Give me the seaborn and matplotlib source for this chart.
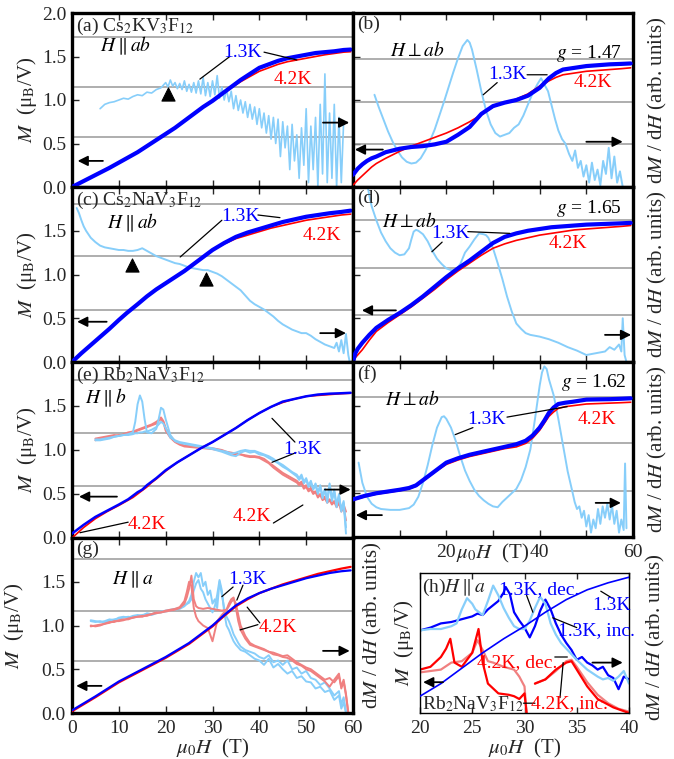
import matplotlib
matplotlib.use('Agg')
import matplotlib.pyplot as plt
import seaborn as sns

sns.set_style('ticks')
plt.rcParams['font.family'] = ['Liberation Serif', 'DejaVu Serif']
plt.rcParams['mathtext.fontset'] = 'stix'

BLUE, RED, LBLUE, SALMON = '#0000ff', '#ff0000', '#87cefa', '#f08080'
FS = 14

# ---------------- data ----------------
# (a) Cs2KV3F12, H || ab
H_a = [0, 2, 4, 6, 8, 10, 12, 14, 16, 18, 20, 22, 24, 26, 28, 30, 32, 34, 36, 38, 40, 42, 44, 46, 48, 50, 52, 54, 56, 58, 59.5]
M_a_13 = [0, 0.055, 0.11, 0.165, 0.22, 0.28, 0.34, 0.40, 0.47, 0.54, 0.61, 0.68, 0.76, 0.84, 0.92, 0.99, 1.07, 1.15, 1.23, 1.30, 1.37, 1.41, 1.45, 1.48, 1.50, 1.52, 1.54, 1.55, 1.56, 1.575, 1.58]
M_a_42 = [0, 0.055, 0.11, 0.165, 0.22, 0.28, 0.34, 0.40, 0.47, 0.54, 0.61, 0.68, 0.76, 0.84, 0.92, 0.99, 1.07, 1.14, 1.21, 1.27, 1.33, 1.37, 1.41, 1.44, 1.46, 1.48, 1.50, 1.52, 1.535, 1.55, 1.555]
Hd_a = [6, 7, 8, 9, 10, 11, 12, 13, 14, 15, 16, 17, 18, 19, 20,
        20.5, 21, 21.5, 22, 22.5, 23, 23.5, 24, 24.5, 25, 25.5, 26, 26.5, 27, 27.5, 28, 28.5, 29, 29.5, 30,
        30.5, 31, 31.5, 32, 32.5, 33, 33.5, 34, 34.5, 35, 35.5, 36, 36.5, 37, 37.5, 38, 38.5, 39, 39.5, 40,
        40.5, 41, 41.5, 42, 42.5, 43, 43.5, 44, 44.5, 45, 45.5, 46, 46.5, 47, 47.5, 48, 48.5, 49, 49.5, 50,
        50.5, 51, 51.5, 52, 52.5, 53, 53.5, 54, 54.5, 55, 55.5, 56, 56.5, 57, 57.5, 58]
D_a = [0.90, 0.95, 0.97, 0.98, 1.00, 1.02, 1.01, 1.04, 1.06, 1.05, 1.09, 1.08, 1.12, 1.14, 1.20,
       1.15, 1.23, 1.16, 1.20, 1.13, 1.19, 1.12, 1.22, 1.10, 1.18, 1.09, 1.20, 1.08, 1.22, 1.07, 1.26, 1.05, 1.20, 1.04, 1.22,
       1.06, 1.28, 1.02, 1.15, 1.00, 1.12, 0.98, 1.10, 0.90, 1.05, 0.88, 1.00, 0.85, 0.98, 0.80, 0.95, 0.78, 0.92, 0.72, 0.90,
       0.68, 0.85, 0.62, 0.82, 0.55, 0.80, 0.50, 0.78, 0.35, 0.75, 0.45, 0.70, 0.20, 0.72, 0.30, 0.60, 0.10, 0.68, 0.25, 0.90,
       0.05, 0.70, 0.20, 0.80, 0.00, 0.95, 0.15, 1.30, 0.05, 0.85, 0.10, 0.95, 0.00, 0.80, 0.05, 0.75]
grid_a = [0.58, 1.15, 1.72]
tri_a_H, tri_a_M = [20.5], [1.07]

# (b) Cs2KV3F12, H perp ab
H_b = [0, 1, 2, 3, 4, 5, 7, 10, 12.5, 15, 17.5, 20, 22.5, 25, 27.5, 30, 32.5, 35, 37.5, 40, 42, 43.5, 45, 47.5, 50, 52.5, 55, 57.5, 59.5]
M_b_13 = [0.14, 0.21, 0.26, 0.30, 0.33, 0.35, 0.40, 0.44, 0.46, 0.47, 0.49, 0.52, 0.60, 0.69, 0.84, 0.93, 0.97, 1.00, 1.05, 1.14, 1.25, 1.31, 1.35, 1.37, 1.39, 1.40, 1.41, 1.415, 1.42]
M_b_42 = [0.02, 0.08, 0.13, 0.18, 0.23, 0.27, 0.33, 0.41, 0.47, 0.52, 0.57, 0.62, 0.68, 0.75, 0.83, 0.92, 0.97, 1.01, 1.07, 1.16, 1.22, 1.26, 1.29, 1.31, 1.33, 1.34, 1.35, 1.36, 1.37]
Hd_b = [4.6, 5.5, 6.5, 7.5, 8.5, 9.5, 10.5, 11.5, 12.5, 13.5, 14.5, 15.5, 16.5, 17.5, 18.5, 19.5, 20.5, 21.5, 22.5, 23.5,
        24.5, 25.0, 25.5, 26.5, 27.5, 28.5, 29.5, 30.5, 31.5, 32.5, 33.5, 34.5, 35.5, 36.5, 37.5, 38.5, 39.5, 40.3, 41.0, 41.8,
        42.5, 43.3, 44.0, 44.8, 45.5, 46.3, 47.0, 47.6, 48.2, 48.8, 49.4, 50.0, 50.6, 51.2, 51.8, 52.4, 53.0, 53.6, 54.2, 54.8,
        55.4, 56.0, 56.6, 57.2, 57.8]
D_b = [1.06, 0.92, 0.78, 0.64, 0.52, 0.42, 0.34, 0.29, 0.27, 0.28, 0.33, 0.42, 0.53, 0.66, 0.82, 0.98, 1.15, 1.32, 1.48, 1.62,
       1.69, 1.66, 1.58, 1.35, 1.10, 0.88, 0.72, 0.62, 0.58, 0.60, 0.62, 0.68, 0.72, 0.82, 0.95, 1.08, 1.18, 1.25, 1.18, 1.10,
       0.95, 0.78, 0.65, 0.55, 0.50, 0.38, 0.30, 0.42, 0.22, 0.30, 0.12, 0.25, 0.05, 0.28, 0.08, 0.20, 0.02, 0.30, 0.15, 0.45,
       0.10, 0.35, 0.05, 0.18, 0.0]
grid_b = [0.49, 0.98, 1.47]

# (c) Cs2NaV3F12, H || ab
H_c = [0, 1, 2, 3.5, 5, 6.5, 8, 10, 11.7, 14, 16, 18, 20, 22, 24, 26, 28, 30, 32.5, 35, 37.5, 40, 42.5, 45, 47.5, 50, 52.5, 55, 57.5, 59.5]
M_c_13 = [0, 0.05, 0.10, 0.17, 0.24, 0.31, 0.38, 0.48, 0.56, 0.66, 0.75, 0.83, 0.90, 0.97, 1.04, 1.12, 1.20, 1.28, 1.36, 1.43, 1.48, 1.52, 1.56, 1.60, 1.63, 1.66, 1.68, 1.70, 1.715, 1.73]
M_c_42 = [0, 0.05, 0.10, 0.17, 0.24, 0.31, 0.38, 0.48, 0.56, 0.66, 0.75, 0.83, 0.90, 0.97, 1.04, 1.12, 1.20, 1.28, 1.35, 1.41, 1.45, 1.49, 1.53, 1.56, 1.59, 1.62, 1.64, 1.66, 1.68, 1.69]
Hd_c = [1.0, 1.5, 2, 2.5, 3, 4, 5, 6, 7, 8, 9, 10, 11, 12, 13, 14, 15, 16, 17, 18, 19, 20, 21, 22, 23, 24, 25, 26, 27, 28,
        29, 30, 31, 32, 33, 34, 35, 36, 37, 38, 39, 40, 41, 42, 43, 44, 45, 46, 47, 48, 49, 50, 51, 52, 53, 54, 55, 56, 56.5,
        57, 57.5, 58, 58.5, 59, 59.3]
D_c = [1.76, 1.70, 1.62, 1.55, 1.50, 1.42, 1.37, 1.33, 1.31, 1.30, 1.29, 1.28, 1.28, 1.27, 1.27, 1.28, 1.30, 1.27, 1.24, 1.21,
       1.19, 1.17, 1.15, 1.13, 1.12, 1.10, 1.08, 1.07, 1.06, 1.05, 1.05, 1.03, 1.01, 0.98, 0.94, 0.90, 0.86, 0.82, 0.76, 0.70,
       0.66, 0.63, 0.60, 0.56, 0.52, 0.47, 0.43, 0.40, 0.37, 0.35, 0.33, 0.33, 0.30, 0.26, 0.23, 0.20, 0.18, 0.16, 0.22, 0.12,
       0.25, 0.10, 0.32, 0.08, 0.0]
grid_c = [0.60, 1.21, 1.81]
tri_c_H, tri_c_M = [12.8, 28.6], [1.11, 0.95]

# (d) Cs2NaV3F12, H perp ab
H_d = [0, 0.5, 1, 2, 3.5, 5, 7.5, 10, 12.5, 15, 17.5, 20, 22.5, 25, 27.5, 30, 32.5, 35, 37.5, 40, 42.5, 45, 47.5, 50, 52.5, 55, 57.5, 59.5]
M_d_13 = [0, 0.10, 0.15, 0.22, 0.31, 0.39, 0.48, 0.56, 0.65, 0.75, 0.86, 0.97, 1.07, 1.16, 1.26, 1.36, 1.43, 1.47, 1.50, 1.52, 1.54, 1.55, 1.56, 1.57, 1.575, 1.58, 1.585, 1.59]
M_d_42 = [0, 0.05, 0.08, 0.14, 0.25, 0.35, 0.45, 0.54, 0.63, 0.73, 0.83, 0.94, 1.04, 1.13, 1.22, 1.30, 1.35, 1.39, 1.42, 1.45, 1.47, 1.49, 1.51, 1.52, 1.53, 1.54, 1.55, 1.56]
Hd_d = [3.0, 3.5, 4, 5, 6, 7, 8, 9, 10, 11, 12, 12.5, 13, 13.5, 14, 14.5, 15, 16, 17, 18, 19, 20, 21, 22, 23, 24, 25, 26,
        27, 28, 28.5, 29, 30, 31, 32, 33, 34, 35, 36, 37, 38, 40, 42, 44, 46, 48, 50, 52, 54, 55, 56, 57, 57.5, 57.8, 58.2, 58.6]
D_d = [2.05, 1.90, 1.78, 1.62, 1.48, 1.38, 1.30, 1.25, 1.22, 1.23, 1.30, 1.40, 1.49, 1.51, 1.50, 1.48, 1.46, 1.38, 1.27, 1.18,
       1.12, 1.07, 1.05, 1.05, 1.12, 1.25, 1.32, 1.40, 1.47, 1.46, 1.45, 1.42, 1.30, 1.13, 0.95, 0.75, 0.58, 0.44, 0.38, 0.33,
       0.31, 0.29, 0.26, 0.22, 0.17, 0.13, 0.08, 0.10, 0.12, 0.17, 0.14, 0.20, 0.12, 0.50, 0.08, 0.0]
grid_d = [0.54, 1.08, 1.62]

# (e) Rb2NaV3F12, H || b
H_e = [0, 2.5, 5, 7.5, 10, 12, 13, 14, 15, 16, 17, 18, 20, 22.5, 25, 27.5, 30, 32.5, 35, 37.5, 40, 42.5, 45, 47.5, 50, 52.5, 55, 57.5, 59.5]
M_e_13 = [0.05, 0.15, 0.24, 0.31, 0.38, 0.44, 0.48, 0.52, 0.55, 0.60, 0.64, 0.68, 0.77, 0.86, 0.94, 1.02, 1.09, 1.17, 1.25, 1.34, 1.42, 1.49, 1.55, 1.58, 1.61, 1.63, 1.64, 1.645, 1.65]
M_e_42 = [0.0, 0.12, 0.22, 0.30, 0.37, 0.43, 0.46, 0.50, 0.54, 0.58, 0.63, 0.67, 0.76, 0.86, 0.94, 1.02, 1.09, 1.17, 1.25, 1.34, 1.42, 1.49, 1.54, 1.58, 1.61, 1.62, 1.63, 1.64, 1.645]
Hd_e = [5, 6, 7, 8, 9, 10, 11, 12, 13, 13.5, 14, 14.5, 15, 15.5, 16, 17, 18, 18.5, 19, 19.5, 20, 21, 22, 23, 24,
        26, 28, 30, 32, 33, 34, 35, 36, 37, 38, 39, 40, 41, 42, 43, 44, 45, 46, 47, 48,
        48.5, 49, 49.5, 50, 50.5, 51, 51.5, 52, 52.5, 53, 53.5, 54, 54.5, 55, 55.5, 56, 56.5, 57, 57.5, 58, 58.5]
D_e_13a = [1.12, 1.12, 1.13, 1.14, 1.15, 1.16, 1.17, 1.18, 1.20, 1.32, 1.52, 1.62, 1.55, 1.35, 1.20, 1.19, 1.24, 1.35, 1.48, 1.46, 1.35, 1.17, 1.10, 1.08, 1.07,
           1.05, 1.03, 1.01, 0.98, 0.96, 0.94, 0.93, 0.97, 0.99, 0.97, 0.98, 0.95, 0.94, 0.91, 0.88, 0.85, 0.81, 0.78, 0.74, 0.70,
           0.66, 0.70, 0.62, 0.66, 0.58, 0.63, 0.55, 0.60, 0.50, 0.58, 0.45, 0.55, 0.40, 0.60, 0.42, 0.52, 0.35, 0.50, 0.30, 0.40, 0.05]
D_e_13b = [1.11, 1.11, 1.12, 1.13, 1.15, 1.16, 1.17, 1.17, 1.18, 1.19, 1.19, 1.20, 1.20, 1.21, 1.21, 1.23, 1.26, 1.29, 1.32, 1.30, 1.25, 1.14, 1.11, 1.09, 1.08,
           1.06, 1.04, 1.02, 0.99, 0.98, 0.96, 0.97, 0.99, 1.00, 0.99, 0.99, 0.97, 0.95, 0.93, 0.90, 0.86, 0.83, 0.79, 0.75, 0.72,
           0.68, 0.72, 0.64, 0.68, 0.60, 0.65, 0.56, 0.62, 0.52, 0.60, 0.48, 0.56, 0.44, 0.62, 0.46, 0.55, 0.38, 0.48, 0.32, 0.42, 0.12]
D_e_42a = [1.13, 1.14, 1.15, 1.16, 1.17, 1.16, 1.18, 1.20, 1.21, 1.22, 1.23, 1.24, 1.25, 1.26, 1.27, 1.29, 1.32, 1.34, 1.37, 1.33, 1.25, 1.16, 1.10, 1.07, 1.05,
           1.04, 1.03, 1.02, 1.00, 0.98, 0.97, 0.96, 0.95, 0.94, 0.93, 0.93, 0.92, 0.90, 0.86, 0.82, 0.78, 0.74, 0.71, 0.68, 0.65,
           0.62, 0.64, 0.58, 0.60, 0.55, 0.57, 0.52, 0.53, 0.48, 0.50, 0.45, 0.47, 0.42, 0.44, 0.40, 0.42, 0.37, 0.42, 0.34, 0.38, 0.30]
D_e_42b = [1.11, 1.13, 1.14, 1.15, 1.16, 1.17, 1.17, 1.19, 1.20, 1.21, 1.22, 1.23, 1.24, 1.25, 1.26, 1.28, 1.30, 1.33, 1.35, 1.32, 1.22, 1.14, 1.09, 1.06, 1.04,
           1.03, 1.02, 1.01, 0.99, 0.97, 0.96, 0.95, 0.95, 0.93, 0.92, 0.92, 0.91, 0.88, 0.85, 0.80, 0.76, 0.72, 0.69, 0.66, 0.63,
           0.60, 0.62, 0.56, 0.58, 0.53, 0.55, 0.50, 0.52, 0.46, 0.49, 0.43, 0.45, 0.40, 0.43, 0.38, 0.41, 0.35, 0.40, 0.30, 0.35, 0.20]
grid_e = [0.59, 1.19, 1.80]

# (f) Rb2NaV3F12, H perp ab
H_f = [0, 2.5, 5, 7.5, 10, 12, 13.5, 15, 16.5, 18, 20, 22.5, 25, 27.5, 30, 32.5, 35, 37, 38.5, 40, 41, 42, 43, 44, 45.5, 47, 50, 52.5, 55, 57.5, 59.5]
M_f_13 = [0.43, 0.47, 0.50, 0.52, 0.54, 0.56, 0.59, 0.65, 0.71, 0.77, 0.85, 0.90, 0.94, 0.97, 1.00, 1.03, 1.06, 1.10, 1.16, 1.25, 1.33, 1.42, 1.48, 1.52, 1.535, 1.545, 1.57, 1.573, 1.575, 1.58, 1.585]
M_f_42 = [0.42, 0.46, 0.49, 0.51, 0.53, 0.55, 0.58, 0.64, 0.70, 0.76, 0.83, 0.88, 0.92, 0.95, 0.98, 1.01, 1.03, 1.07, 1.13, 1.22, 1.30, 1.38, 1.43, 1.47, 1.49, 1.50, 1.52, 1.525, 1.53, 1.535, 1.54]
Hd_f = [1.2, 2, 3, 4, 5, 6, 8, 10, 12, 13, 14, 15, 16, 17, 18, 19, 19.5, 20, 21, 22, 23, 24, 25, 26, 27, 28, 29, 30, 31,
        32, 33, 34, 35, 36, 37, 38, 39, 40, 40.5, 41, 41.5, 42, 43, 44, 45, 46, 47, 47.5, 48, 48.5, 49, 49.5, 50, 50.5, 51,
        51.5, 52, 52.5, 53, 53.5, 54, 54.5, 55, 55.5, 56, 56.5, 57, 57.5, 58, 58.3, 58.6]
D_f = [0.85, 0.62, 0.46, 0.38, 0.34, 0.32, 0.31, 0.31, 0.33, 0.37, 0.46, 0.62, 0.82, 1.05, 1.25, 1.37, 1.38, 1.35, 1.25, 1.10,
       0.92, 0.76, 0.64, 0.54, 0.47, 0.42, 0.38, 0.35, 0.34, 0.40, 0.45, 0.50, 0.55, 0.65, 0.80, 1.00, 1.35, 1.73, 1.88, 1.95,
       1.92, 1.80, 1.62, 1.35, 1.05, 0.75, 0.52, 0.40, 0.32, 0.35, 0.22, 0.30, 0.12, 0.25, 0.05, 0.20, 0.10, 0.32, 0.15, 0.35,
       0.22, 0.38, 0.20, 0.36, 0.15, 0.30, 0.05, 0.20, 0.08, 0.84, 0.10]
grid_f = [0.53, 1.08, 1.60]

# (g) Rb2NaV3F12, H || a
H_g = [0, 5, 10, 15, 20, 22.5, 25, 27.5, 30, 32.5, 35, 37.5, 40, 42.5, 45, 47.5, 50, 52.5, 55, 57.5, 59.5]
M_g_13 = [0.03, 0.19, 0.36, 0.50, 0.64, 0.72, 0.80, 0.90, 1.00, 1.12, 1.23, 1.31, 1.37, 1.42, 1.46, 1.50, 1.54, 1.57, 1.60, 1.62, 1.63]
M_g_42 = [0.02, 0.18, 0.35, 0.49, 0.63, 0.71, 0.79, 0.89, 0.99, 1.11, 1.22, 1.30, 1.37, 1.42, 1.47, 1.51, 1.55, 1.59, 1.62, 1.65, 1.67]
Hd_g13 = [4, 5, 6, 7, 8, 9, 10, 11, 12, 13, 14, 15, 16, 17, 18, 19, 20, 21, 22, 23, 24, 25,
          25.5, 26, 26.5, 27, 27.5, 28, 28.5, 29, 29.5, 30, 30.5, 31, 31.5, 32, 32.5, 33, 33.5, 34, 34.5, 35, 35.5, 36,
          37, 38, 39, 40, 41, 42, 43, 44, 45, 46, 47, 48, 49, 50, 51, 52, 53, 54, 55, 56, 57, 57.5, 58, 58.5]
D_g13a = [1.05, 1.04, 1.05, 1.03, 1.06, 1.07, 1.08, 1.09, 1.10, 1.09, 1.11, 1.12, 1.13, 1.12, 1.14, 1.15, 1.16, 1.17, 1.18, 1.19, 1.22, 1.28,
          1.35, 1.50, 1.60, 1.55, 1.60, 1.45, 1.50, 1.35, 1.40, 1.25, 1.30, 1.20, 1.50, 1.35, 1.20, 1.10, 1.05, 0.98, 0.90, 0.85, 0.80, 0.76,
          0.72, 0.70, 0.68, 0.64, 0.62, 0.66, 0.58, 0.60, 0.55, 0.60, 0.50, 0.52, 0.45, 0.48, 0.40, 0.38, 0.32, 0.35, 0.28, 0.20, 0.25, 0.10, 0.18, 0.02]
D_g13b = [1.06, 1.05, 1.04, 1.05, 1.07, 1.06, 1.09, 1.10, 1.09, 1.11, 1.12, 1.11, 1.14, 1.13, 1.15, 1.16, 1.17, 1.18, 1.19, 1.20, 1.23, 1.26,
          1.30, 1.40, 1.48, 1.52, 1.42, 1.38, 1.30, 1.25, 1.20, 1.15, 1.22, 1.35, 1.52, 1.40, 1.15, 1.00, 0.95, 0.88, 0.82, 0.78, 0.75, 0.72,
          0.70, 0.66, 0.62, 0.60, 0.55, 0.62, 0.52, 0.56, 0.50, 0.45, 0.48, 0.40, 0.42, 0.36, 0.35, 0.28, 0.30, 0.24, 0.26, 0.15, 0.20, 0.05, 0.12, 0.0]
Hd_g42 = [4, 5, 6, 7, 8, 9, 10, 11, 12, 13, 14, 15, 16, 17, 18, 19, 20, 21, 22, 23, 24,
          24.5, 25, 25.5, 26, 26.5, 27, 28, 29, 30, 31, 32, 33, 33.5, 34, 34.5, 35, 35.5, 36,
          37, 38, 39, 40, 41, 42, 43, 44, 45, 46, 47, 48, 49, 50, 51, 52, 53, 54, 55, 56, 57, 57.5, 58, 58.5, 59]
D_g42a = [1.00, 0.99, 1.00, 1.02, 1.03, 1.05, 1.05, 1.06, 1.08, 1.09, 1.10, 1.10, 1.12, 1.13, 1.14, 1.15, 1.16, 1.17, 1.18, 1.20, 1.25,
          1.32, 1.42, 1.57, 1.30, 1.22, 1.20, 1.19, 1.20, 1.19, 1.18, 1.17, 1.18, 1.22, 1.27, 1.30, 1.25, 1.12, 1.00,
          0.88, 0.80, 0.77, 0.75, 0.73, 0.70, 0.69, 0.67, 0.65, 0.66, 0.62, 0.58, 0.55, 0.52, 0.50, 0.46, 0.42, 0.38, 0.40, 0.35, 0.42, 0.30, 0.38, 0.22, 0.0]
D_g42b = [0.99, 1.00, 1.01, 1.02, 1.04, 1.04, 1.06, 1.07, 1.07, 1.09, 1.10, 1.11, 1.11, 1.13, 1.15, 1.15, 1.17, 1.18, 1.19, 1.21, 1.28,
          1.38, 1.50, 1.45, 1.20, 1.10, 1.05, 1.00, 0.97, 0.82, 1.05, 1.12, 1.18, 1.25, 1.30, 1.32, 1.20, 1.05, 0.95,
          0.85, 0.78, 0.76, 0.74, 0.72, 0.70, 0.67, 0.66, 0.64, 0.63, 0.60, 0.56, 0.54, 0.50, 0.48, 0.44, 0.40, 0.36, 0.30, 0.38, 0.45, 0.28, 0.36, 0.20, 0.0]
grid_g = [0.59, 1.17, 1.76]

# (h) Rb2NaV3F12, H || a, 20-40 T (arb. units)
H_hM = [20, 22, 24, 26, 28, 30, 32, 34, 36, 38, 40]
M_h = [0.12, 0.21, 0.32, 0.43, 0.53, 0.62, 0.72, 0.81, 0.88, 0.93, 0.97]
H_h_dec13 = [20, 21, 22, 23, 23.5, 24, 24.5, 25, 25.3, 26, 26.5, 27, 27.5, 28, 28.5, 29, 29.5, 30, 30.5, 31, 31.5, 32,
             32.5, 33, 33.5, 34, 35, 36, 37, 37.5, 38, 38.5, 39, 39.5, 40]
D_h_dec13 = [0.59, 0.60, 0.60, 0.62, 0.64, 0.74, 0.82, 0.78, 0.74, 0.70, 0.80, 0.91, 0.84, 0.75, 0.68, 0.62, 0.60, 0.60, 0.66, 0.75, 0.83, 0.78,
             0.64, 0.56, 0.50, 0.46, 0.38, 0.31, 0.26, 0.24, 0.25, 0.23, 0.26, 0.30, 0.21]
H_h_inc13 = [20, 21, 22, 23, 24, 25, 25.5, 26, 26.5, 27, 27.5, 28, 28.2, 28.6, 29, 29.5, 30, 30.5, 31, 31.5, 32, 32.5,
             33, 33.5, 34, 34.5, 35, 35.5, 36, 36.5, 37, 37.5, 38, 38.5, 39, 39.5, 40]
D_h_inc13 = [0.59, 0.61, 0.64, 0.65, 0.67, 0.69, 0.71, 0.70, 0.74, 0.77, 0.80, 0.86, 0.90, 0.85, 0.72, 0.66, 0.61, 0.54, 0.62, 0.73, 0.81, 0.74,
             0.64, 0.56, 0.50, 0.45, 0.38, 0.40, 0.36, 0.34, 0.31, 0.33, 0.27, 0.25, 0.17, 0.26, 0.24]
H_h_dec42 = [20, 21, 22, 23, 24, 25, 25.5, 26, 26.5, 27, 28, 29, 29.5, 30, 30.2]
D_h_dec42 = [0.29, 0.30, 0.31, 0.36, 0.37, 0.43, 0.52, 0.45, 0.37, 0.36, 0.33, 0.31, 0.26, 0.19, 0.0]
H_h_dec42b = [31, 32, 33, 34, 34.5, 35, 36, 37, 38, 39, 40]
D_h_dec42b = [0.21, 0.24, 0.30, 0.37, 0.38, 0.33, 0.22, 0.13, 0.07, 0.03, 0.01]
H_h_inc42 = [20, 21, 22, 22.5, 22.9, 23.3, 24, 25, 25.6, 26, 26.5, 27.5, 28.5, 29, 29.5, 30, 30.2]
D_h_inc42 = [0.31, 0.33, 0.40, 0.46, 0.53, 0.36, 0.33, 0.43, 0.60, 0.36, 0.21, 0.14, 0.13, 0.12, 0.10, 0.14, 0.0]
H_h_inc42b = [31, 32, 33, 34, 34.5, 35, 36, 37, 38.5, 40]
D_h_inc42b = [0.21, 0.24, 0.31, 0.36, 0.37, 0.31, 0.19, 0.10, 0.04, 0.0]

# ---------------- figure ----------------
W, HT = 674, 759
fig = plt.figure(figsize=(W / 100, HT / 100), dpi=100)


def add_ax(l, t, r, b):
    return fig.add_axes([l / W, 1 - b / HT, (r - l) / W, (b - t) / HT])


def curve(ax, x, y, color, lw, z=2):
    sns.lineplot(x=x, y=y, ax=ax, color=color, lw=lw, sort=False, estimator=None, zorder=z)


def arrow(ax, tail, tip, y):
    ax.annotate('', xy=(tip, y), xytext=(tail, y),
                arrowprops=dict(arrowstyle='-|>', color='k', lw=1.3, mutation_scale=15, shrinkA=0, shrinkB=0))


def lead(ax, p0, p1):
    ax.annotate('', xy=p1, xytext=p0,
                arrowprops=dict(arrowstyle='-', color='k', lw=0.9, shrinkA=0, shrinkB=0))


def txt(ax, x, y, s, color='k', ha='center', **kw):
    ax.text(x, y, s, color=color, ha=ha, va='center', fontsize=FS, zorder=6, **kw)


def frame(ax, grid, lw=2.4):
    ax.set_xlim(0, 60)
    ax.set_ylim(0, 2)
    ax.set_xticks(range(0, 61, 10))
    ax.set_yticks([0, 0.5, 1.0, 1.5, 2.0])
    for v in grid:
        ax.axhline(v, color='0.6', lw=1.1, zorder=1)
    for s in ax.spines.values():
        s.set_linewidth(lw)
        s.set_color('k')
    ax.tick_params(direction='in', length=5, width=1, labelsize=FS, pad=4, top=True)
    ax.set_xlabel('')
    ax.set_ylabel('')


def title(ax, s):
    ax.text(0.015, 0.985, s, transform=ax.transAxes, va='top', fontsize=FS, zorder=6)


ylab_M = r'$M$  (μ$_{\rm B}$/V)'
ylab_D = r'd$M$ / d$H$ (arb. units)'
xlab = r'$\mu_0H$  (T)'

ax_a = add_ax(72, 13, 353, 187)
ax_b = add_ax(353, 13, 633, 187)
ax_c = add_ax(72, 187, 353, 362)
ax_d = add_ax(353, 187, 633, 362)
ax_e = add_ax(72, 362, 353, 538)
ax_f = add_ax(353, 362, 633, 537)
ax_g = add_ax(72, 538, 353, 713)
ax_h = add_ax(420, 573, 629, 713)

# (a)
curve(ax_a, Hd_a, D_a, LBLUE, 1.2)
curve(ax_a, H_a, M_a_42, RED, 1.2, 3)
curve(ax_a, H_a, M_a_13, BLUE, 3.0, 3)
sns.scatterplot(x=tri_a_H, y=tri_a_M, ax=ax_a, marker='^', color='k', s=90, zorder=5, edgecolor='k')
frame(ax_a, grid_a)
ax_a.set_yticklabels(['0.0', '0.5', '1.0', '1.5', '2.0'])
ax_a.tick_params(labelbottom=False)
ax_a.set_ylabel(ylab_M, fontsize=15, labelpad=2)
title(ax_a, r'(a) Cs$_2$KV$_3$F$_{12}$')
txt(ax_a, 6.0, 1.62, r'$H\parallel ab$', ha='left')
txt(ax_a, 36.5, 1.55, '1.3K', BLUE)
lead(ax_a, (27.3, 1.24), (33.7, 1.50))
lead(ax_a, (41.0, 1.55), (48.0, 1.46))
txt(ax_a, 47.2, 1.23, '4.2K', RED)
arrow(ax_a, 6.6, 1.2, 0.30)
arrow(ax_a, 53.6, 59.2, 0.74)

# (b)
curve(ax_b, Hd_b, D_b, LBLUE, 1.4)
curve(ax_b, H_b, M_b_42, RED, 1.2, 3)
curve(ax_b, H_b, M_b_13, BLUE, 3.0, 3)
frame(ax_b, grid_b)
ax_b.tick_params(labelbottom=False, labelleft=False)
ax_b.yaxis.set_label_position('right')
ax_b.set_ylabel(ylab_D, fontsize=15, labelpad=9)
title(ax_b, '(b)')
txt(ax_b, 7.9, 1.57, r'$H\perp ab$', ha='left')
txt(ax_b, 57.6, 1.54, r'$g$ = 1.47', ha='right')
txt(ax_b, 33.0, 1.29, '1.3K', BLUE)
lead(ax_b, (27.9, 1.06), (30.9, 1.20))
lead(ax_b, (37.3, 1.29), (41.6, 1.29))
txt(ax_b, 51.4, 1.20, '4.2K', RED)
arrow(ax_b, 6.4, 0.4, 0.43)
arrow(ax_b, 50.0, 57.8, 0.52)

# (c)
curve(ax_c, Hd_c, D_c, LBLUE, 1.4)
curve(ax_c, H_c, M_c_42, RED, 1.2, 3)
curve(ax_c, H_c, M_c_13, BLUE, 3.0, 3)
sns.scatterplot(x=tri_c_H, y=tri_c_M, ax=ax_c, marker='^', color='k', s=90, zorder=5, edgecolor='k')
frame(ax_c, grid_c)
ax_c.set_yticklabels(['0.0', '0.5', '1.0', '1.5', ''])
ax_c.tick_params(labelbottom=False)
ax_c.set_ylabel(ylab_M, fontsize=15, labelpad=2)
title(ax_c, r'(c) Cs$_2$NaV$_3$F$_{12}$')
txt(ax_c, 7.5, 1.59, r'$H\parallel ab$', ha='left')
txt(ax_c, 35.9, 1.66, '1.3K', BLUE)
lead(ax_c, (23.1, 1.20), (32.0, 1.62))
lead(ax_c, (39.7, 1.68), (44.4, 1.65))
txt(ax_c, 53.4, 1.45, '4.2K', RED)
arrow(ax_c, 7.4, 1.1, 0.46)
arrow(ax_c, 53.0, 58.5, 0.33)

# (d)
curve(ax_d, Hd_d, D_d, LBLUE, 1.4)
curve(ax_d, H_d, M_d_42, RED, 1.2, 3)
curve(ax_d, H_d, M_d_13, BLUE, 3.0, 3)
frame(ax_d, grid_d)
ax_d.tick_params(labelbottom=False, labelleft=False)
ax_d.yaxis.set_label_position('right')
ax_d.set_ylabel(ylab_D, fontsize=15, labelpad=9)
title(ax_d, '(d)')
txt(ax_d, 6.2, 1.61, r'$H\perp ab$', ha='left')
txt(ax_d, 57.6, 1.76, r'$g$ = 1.65', ha='right')
txt(ax_d, 20.8, 1.47, '1.3K', BLUE)
lead(ax_d, (16.9, 1.26), (19.1, 1.37))
lead(ax_d, (24.6, 1.49), (33.6, 1.47))
txt(ax_d, 46.1, 1.36, '4.2K', RED)
arrow(ax_d, 9.2, 1.9, 0.59)
arrow(ax_d, 54.0, 59.6, 0.31)

# (e)
curve(ax_e, Hd_e, D_e_42a, SALMON, 1.4)
curve(ax_e, Hd_e, D_e_42b, SALMON, 1.4)
curve(ax_e, Hd_e, D_e_13b, LBLUE, 1.4)
curve(ax_e, Hd_e, D_e_13a, LBLUE, 1.4)
curve(ax_e, H_e, M_e_42, RED, 1.2, 3)
curve(ax_e, H_e, M_e_13, BLUE, 1.8, 3)
frame(ax_e, grid_e)
ax_e.set_yticklabels(['0.0', '0.5', '1.0', '1.5', ''])
ax_e.tick_params(labelbottom=False)
ax_e.set_ylabel(ylab_M, fontsize=15, labelpad=2)
title(ax_e, r'(e) Rb$_2$NaV$_3$F$_{12}$')
txt(ax_e, 2.8, 1.59, r'$H\parallel b$', ha='left')
txt(ax_e, 49.3, 1.01, '1.3K', BLUE)
lead(ax_e, (42.7, 1.36), (47.6, 1.09))
lead(ax_e, (42.7, 0.86), (47.8, 0.97))
txt(ax_e, 38.4, 0.24, '4.2K', RED)
lead(ax_e, (43.0, 0.17), (49.3, 0.375))
txt(ax_e, 16.0, 0.15, '4.2K', RED)
lead(ax_e, (1.7, 0.06), (12.0, 0.18))
arrow(ax_e, 9.6, 1.5, 0.47)
arrow(ax_e, 54.0, 59.5, 0.55)

# (f)
curve(ax_f, Hd_f, D_f, LBLUE, 1.4)
curve(ax_f, H_f, M_f_42, RED, 1.2, 3)
curve(ax_f, H_f, M_f_13, BLUE, 3.0, 3)
frame(ax_f, grid_f)
ax_f.set_xticklabels(['', '', '20', '', '40', '', '60'])
ax_f.tick_params(labelleft=False, pad=5)
ax_f.yaxis.set_label_position('right')
ax_f.set_ylabel(ylab_D, fontsize=15, labelpad=9)
ax_f.text(30, -0.19, xlab, ha='center', va='center', fontsize=15)
title(ax_f, '(f)')
txt(ax_f, 6.9, 1.57, r'$H\perp ab$', ha='left')
txt(ax_f, 58.7, 1.77, r'$g$ = 1.62', ha='right')
txt(ax_f, 28.7, 1.34, '1.3K', BLUE)
lead(ax_f, (21.9, 1.17), (25.7, 1.25))
lead(ax_f, (33.0, 1.37), (45.9, 1.49))
txt(ax_f, 52.3, 1.34, '4.2K', RED)
arrow(ax_f, 6.2, 0.6, 0.25)
arrow(ax_f, 52.0, 57.4, 0.39)

# (g)
curve(ax_g, Hd_g13, D_g13b, LBLUE, 1.4)
curve(ax_g, Hd_g13, D_g13a, LBLUE, 1.4)
curve(ax_g, Hd_g42, D_g42b, SALMON, 1.4)
curve(ax_g, Hd_g42, D_g42a, SALMON, 1.4)
curve(ax_g, H_g, M_g_42, RED, 1.6, 3)
curve(ax_g, H_g, M_g_13, BLUE, 1.6, 3)
frame(ax_g, grid_g)
ax_g.set_yticklabels(['0.0', '0.5', '1.0', '1.5', ''])
ax_g.tick_params(pad=5)
ax_g.set_xlabel(xlab, fontsize=15, labelpad=0)
title(ax_g, '(g)')
txt(ax_g, 8.5, 1.52, r'$H\parallel a$', ha='left')
txt(ax_g, 37.4, 1.52, '1.3K', BLUE)
lead(ax_g, (32.0, 1.33), (34.4, 1.44))
lead(ax_g, (35.2, 1.29), (36.5, 1.46))
txt(ax_g, 44.0, 0.98, '4.2K', RED)
lead(ax_g, (37.4, 1.21), (40.1, 1.03))
lead(ax_g, (35.9, 0.95), (39.7, 1.01))
arrow(ax_g, 6.3, 0.9, 0.31)
arrow(ax_g, 53.6, 59.3, 0.71)
ax_g.yaxis.set_label_position('right')
ax_g.set_ylabel(ylab_D, fontsize=15, labelpad=6)
ax_g.text(-0.205, 0.5, ylab_M, transform=ax_g.transAxes, rotation=90, ha='center', va='center', fontsize=15)

# (h)
curve(ax_h, H_h_dec42, D_h_dec42, SALMON, 1.6)
curve(ax_h, H_h_dec42b, D_h_dec42b, SALMON, 1.6)
curve(ax_h, H_h_inc42, D_h_inc42, RED, 1.6)
curve(ax_h, H_h_inc42b, D_h_inc42b, RED, 1.6)
curve(ax_h, H_h_inc13, D_h_inc13, BLUE, 1.6)
curve(ax_h, H_h_dec13, D_h_dec13, LBLUE, 1.6)
curve(ax_h, H_hM, M_h, BLUE, 1.2, 3)
ax_h.set_xlim(20, 40)
ax_h.set_ylim(0, 1)
ax_h.set_xticks([20, 25, 30, 35, 40])
ax_h.set_yticks([])
for s in ax_h.spines.values():
    s.set_linewidth(1.0)
    s.set_color('k')
ax_h.tick_params(direction='in', length=4, width=1, labelsize=FS, pad=5, top=True)
ax_h.set_xlabel(xlab, fontsize=15, labelpad=0)
ax_h.set_ylabel(ylab_M, fontsize=15, labelpad=3)
fig.text(655 / W, 1 - 637 / HT, ylab_D, rotation=90, ha='center', va='center', fontsize=15)
ax_h.text(20.2, 0.90, r'(h)$H\parallel a$', ha='left', va='center', fontsize=FS)
txt(ax_h, 31.4, 0.88, '1.3K, dec.', BLUE)
lead(ax_h, (30.8, 0.72), (30.2, 0.84))
txt(ax_h, 38.3, 0.77, '1.3K', BLUE)
lead(ax_h, (37.3, 0.87), (38.4, 0.82))
txt(ax_h, 36.9, 0.59, '1.3K, inc.', BLUE)
lead(ax_h, (32.7, 0.68), (35.0, 0.61))
txt(ax_h, 29.3, 0.36, '4.2K, dec.', RED)
lead(ax_h, (32.9, 0.40), (34.1, 0.40))
txt(ax_h, 34.3, 0.07, '4.2K, inc.', RED)
lead(ax_h, (29.9, 0.07), (31.0, 0.07))
lead(ax_h, (33.7, 0.36), (33.4, 0.11))
ax_h.text(20.2, 0.06, r'Rb$_2$NaV$_3$F$_{12}$', ha='left', va='center', fontsize=FS)
arrow(ax_h, 22.2, 20.3, 0.22)
arrow(ax_h, 36.5, 39.4, 0.36)

fig.savefig('out.png', dpi=100)
